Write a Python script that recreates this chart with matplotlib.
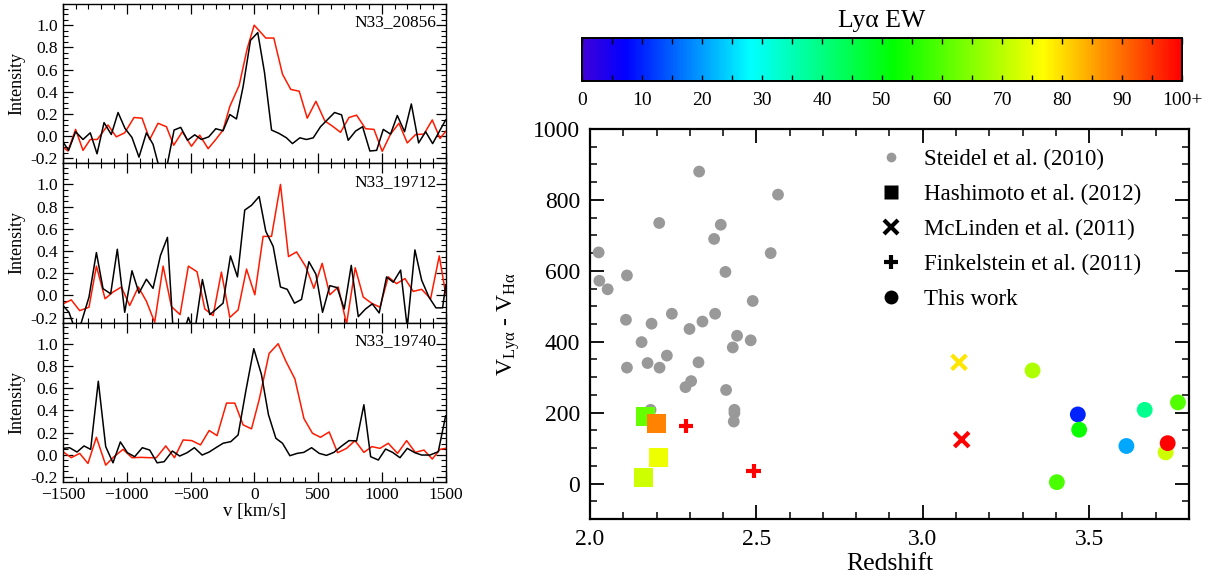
import numpy as np
import matplotlib
matplotlib.use('Agg')
import matplotlib.pyplot as plt
from matplotlib.colors import LinearSegmentedColormap, Normalize
from matplotlib.cm import ScalarMappable
from matplotlib.lines import Line2D
from matplotlib.ticker import MultipleLocator

plt.rcParams['font.family'] = ['Liberation Serif', 'DejaVu Serif']
plt.rcParams['mathtext.fontset'] = 'custom'
plt.rcParams['mathtext.rm'] = 'Liberation Serif'
plt.rcParams['mathtext.it'] = 'Liberation Serif:italic'

# ---------------- spectra (left panels) ----------------
names = ['N33_20856', 'N33_19712', 'N33_19740']

v_black_1 = [-1500, -1456, -1401, -1343, -1286, -1233, -1178, -1121, -1068, -1014, -959, -904, -846, -794,
             -742, -690, -629, -577, -524, -467, -415, -357, -302, -245, -192, -140, -88, -30, 27, 80, 135,
             195, 252, 299, 357, 409, 462, 519, 579, 629, 684, 736, 794, 849, 906, 959, 1011, 1068, 1121,
             1178, 1231, 1288, 1343, 1398, 1500]
i_black_1 = [-0.052, -0.128, 0.040, -0.030, 0.030, -0.159, 0.122, 0.015, 0.213, 0.070, -0.012, -0.189, 0.030,
             -0.073, -0.30, -0.30, 0.055, 0.079, -0.037, 0.012, -0.030, -0.006, 0.067, 0.049, 0.195, 0.155,
             0.445, 0.863, 0.933, 0.573, 0.055, 0.024, -0.015, -0.067, -0.015, -0.030, -0.015, 0.085, 0.155,
             0.213, 0.192, -0.037, 0.046, 0.085, -0.134, -0.128, 0.061, 0.018, 0.186, 0.040, 0.290, -0.061,
             0.040, -0.067, 0.146]
v_red_1 = [-1500, -1461, -1401, -1343, -1286, -1231, -1147, -1082, -1016, -943, -880, -820, -755, -689, -632,
           -564, -493, -428, -362, -302, -245, -192, -119, -56, -1, 90, 153, 221, 286, 352, 415, 483, 553,
           619, 676, 742, 802, 872, 938, 1003, 1068, 1134, 1199, 1265, 1330, 1395, 1456, 1500]
i_red_1 = [-0.098, -0.134, 0.061, -0.128, -0.030, -0.030, 0.101, -0.006, 0.030, 0.168, 0.162, -0.030, 0.116,
           0.085, -0.082, 0.040, -0.091, 0.009, -0.113, -0.030, 0.055, 0.268, 0.457, 0.787, 1.0, 0.884, 0.884,
           0.558, 0.421, 0.405, 0.162, 0.314, 0.137, 0.085, 0.034, 0.168, 0.189, 0.067, 0.061, -0.137, 0.018,
           0.116, -0.061, 0.015, 0.018, 0.146, -0.021, 0.043]

v_black_2 = [-1500, -1453, -1401, -1356, -1296, -1238, -1186, -1126, -1074, -1016, -959, -904, -846, -794,
             -736, -681, -632, -571, -517, -470, -407, -349, -297, -245, -187, -132, -75, -22, 38, 90, 148,
             205, 258, 315, 370, 428, 483, 535, 592, 650, 705, 760, 815, 872, 925, 979, 1037, 1089, 1147,
             1199, 1259, 1312, 1369, 1424, 1476, 1500]
i_black_2 = [-0.091, -0.152, -0.32, -0.243, -0.015, 0.386, 0.061, 0.015, 0.416, -0.152, 0.222, 0.021, 0.146,
             0.064, 0.359, 0.523, -0.40, -0.40, -0.198, -0.35, 0.143, -0.173, -0.122, -0.070, 0.356, 0.167,
             0.769, 0.812, 0.891, 0.578, 0.441, 0.076, 0.055, -0.070, -0.036, 0.304, 0.191, -0.152, 0.088,
             0.070, -0.122, 0.271, -0.191, -0.122, -0.076, -0.158, 0.167, 0.119, 0.228, -0.29, 0.410, 0.137,
             -0.015, -0.112, -0.112, 0.091]
v_red_2 = [-1500, -1435, -1369, -1296, -1238, -1170, -1108, -1042, -977, -909, -846, -781, -715, -650, -582,
           -517, -449, -388, -323, -258, -192, -127, -61, 4, 69, 135, 205, 268, 331, 404, 467, 532, 592, 658,
           723, 791, 854, 919, 985, 1050, 1115, 1181, 1246, 1312, 1382, 1450, 1500]
i_red_2 = [-0.076, -0.040, -0.137, -0.106, 0.264, -0.030, 0.030, 0.076, -0.091, 0.076, -0.052, -0.243, 0.264,
           -0.100, -0.173, 0.264, 0.213, -0.122, -0.182, 0.210, -0.198, -0.131, 0.237, 0.006, 0.532, 0.532,
           1.0, 0.350, 0.392, 0.258, 0.064, 0.289, 0.006, 0.076, -0.258, 0.249, -0.015, -0.070, -0.106,
           0.167, 0.106, 0.152, 0.036, 0.055, -0.030, 0.356, 0.015]

v_black_3 = [-1500, -1448, -1390, -1335, -1283, -1223, -1165, -1108, -1050, -995, -938, -878, -820, -762,
             -707, -642, -585, -527, -470, -409, -354, -297, -245, -184, -127, -67, -4, 56, 111, 169, 221,
             279, 336, 388, 449, 509, 566, 624, 679, 742, 802, 859, 912, 972, 1029, 1084, 1142, 1199, 1259,
             1312, 1377, 1442, 1500]
i_black_3 = [0.057, 0.063, 0.024, 0.079, 0.048, 0.662, 0.073, -0.073, 0.115, 0.018, -0.018, 0.063, 0.042,
             -0.073, -0.063, 0.033, -0.012, 0.018, 0.063, -0.003, 0.024, 0.066, 0.103, 0.118, 0.178, 0.571,
             0.955, 0.722, 0.360, 0.148, 0.103, -0.009, 0.012, 0.021, 0.063, 0.012, -0.006, 0.021, 0.073,
             0.127, 0.124, 0.450, -0.018, -0.048, 0.051, 0.021, -0.027, 0.057, 0.018, -0.003, -0.003, 0.027,
             0.350]
v_red_3 = [-1500, -1435, -1369, -1304, -1238, -1165, -1100, -1029, -959, -885, -820, -768, -694, -626, -558,
           -490, -422, -354, -292, -218, -153, -88, -22, 38, 116, 187, 247, 318, 389, 456, 519, 587, 653, 723,
           789, 859, 922, 985, 1050, 1123, 1194, 1262, 1330, 1395, 1456, 1500]
i_red_3 = [0.027, -0.027, 0.012, -0.079, 0.157, -0.094, -0.018, 0.048, -0.027, -0.024, -0.027, -0.027, 0.079,
           -0.027, 0.133, 0.127, 0.088, 0.218, 0.172, 0.465, 0.465, 0.269, 0.233, 0.495, 0.912, 1.0, 0.843,
           0.683, 0.326, 0.193, 0.157, 0.205, 0.018, 0.057, 0.127, 0.021, 0.073, 0.057, 0.103, 0.012, 0.127,
           0.021, 0.042, -0.039, 0.048, 0.057]

# ---------------- velocity offsets (right panel) ----------------
steidel_z = [2.328, 2.565, 2.208, 2.393, 2.373, 2.026, 2.543, 2.407, 2.028, 2.111, 2.053, 2.489, 2.108, 2.246,
             2.376, 2.185, 2.299, 2.338, 2.442, 2.155, 2.483, 2.429, 2.111, 2.173, 2.209, 2.231, 2.326, 2.287,
             2.304, 2.409, 2.434, 2.434, 2.432, 2.182]
steidel_dv = [880, 815, 735, 730, 690, 652, 650, 597, 572, 587, 548, 515, 462, 479, 479, 451, 436, 457, 417,
              399, 404, 384, 327, 340, 327, 361, 342, 272, 289, 264, 208, 199, 175, 208]

hashimoto_z = [2.167, 2.199, 2.206, 2.161]
hashimoto_dv = [190, 170, 74, 17]
hashimoto_ew = [62, 88, 75, 72]

mclinden_z = [3.109, 3.117]
mclinden_dv = [342, 124]
mclinden_ew = [79, 100]

finkelstein_z = [2.288, 2.492]
finkelstein_dv = [162, 35]
finkelstein_ew = [100, 100]

this_z = [3.330, 3.466, 3.470, 3.403, 3.612, 3.667, 3.767, 3.730, 3.736]
this_dv = [319, 195, 152, 4, 106, 208, 229, 88, 114]
this_ew = [69, 10, 53, 59, 21, 39, 60, 72, 100]

cbar_ticks = [0, 10, 20, 30, 40, 50, 60, 70, 80, 90, 100]
cbar_labels = ['0', '10', '20', '30', '40', '50', '60', '70', '80', '90', '100+']

# IDL-like rainbow
cmap = LinearSegmentedColormap.from_list('idl_rainbow', [
    (0.00, (0.25, 0.0, 0.85)),
    (0.07, (0.0, 0.0, 1.0)),
    (0.28, (0.0, 1.0, 1.0)),
    (0.52, (0.0, 1.0, 0.0)),
    (0.77, (1.0, 1.0, 0.0)),
    (1.00, (1.0, 0.0, 0.0)),
])
norm = Normalize(0, 100)

fig = plt.figure(figsize=(12.11, 5.82), dpi=100)

# ---------------- left panels ----------------
spectra = [(v_black_1, i_black_1, v_red_1, i_red_1),
           (v_black_2, i_black_2, v_red_2, i_red_2),
           (v_black_3, i_black_3, v_red_3, i_red_3)]
left, width = 0.052, 0.316
bottom, top = 0.172, 0.993
h = (top - bottom) / 3
for k, (vb, ib, vr, ir) in enumerate(spectra):
    ax = fig.add_axes([left, top - (k + 1) * h, width, h])
    ax.plot(vr, ir, color='#ff1a00', lw=1.1)
    ax.plot(vb, ib, color='black', lw=1.1)
    ax.set_xlim(-1500, 1500)
    ax.set_ylim(-0.245, 1.19)
    ax.xaxis.set_major_locator(MultipleLocator(500))
    ax.xaxis.set_minor_locator(MultipleLocator(100))
    ax.yaxis.set_major_locator(MultipleLocator(0.2))
    ax.yaxis.set_minor_locator(MultipleLocator(0.05))
    ax.yaxis.set_major_formatter(matplotlib.ticker.FuncFormatter(lambda y, p: f'{y:.1f}'))
    ax.tick_params(which='both', direction='in', top=True, right=True, labelsize=12.5)
    ax.tick_params(which='major', length=7, width=0.9)
    ax.tick_params(which='minor', length=3.5, width=0.8)
    ax.set_ylabel('Intensity', fontsize=13, labelpad=4)
    ax.text(0.975, 0.885, names[k], transform=ax.transAxes, ha='right', va='center', fontsize=12.5)
    for s in ax.spines.values():
        s.set_linewidth(1.0)
    if k < 2:
        ax.tick_params(labelbottom=False)
    else:
        ax.set_xlabel('v [km/s]', fontsize=13.5, labelpad=0)

# ---------------- right panel ----------------
ax = fig.add_axes([0.4872, 0.1082, 0.4946, 0.6701])
ax.scatter(steidel_z, steidel_dv, s=72, color='#999999', edgecolors='none', zorder=2)
ax.scatter(hashimoto_z, hashimoto_dv, s=190, marker='s', c=hashimoto_ew, cmap=cmap, norm=norm,
           edgecolors='none', zorder=3)
ax.scatter(mclinden_z, mclinden_dv, s=110, marker='x', c=mclinden_ew, cmap=cmap, norm=norm,
           linewidths=3, zorder=3)
ax.scatter(finkelstein_z, finkelstein_dv, s=110, marker='+', c=finkelstein_ew, cmap=cmap, norm=norm,
           linewidths=3, zorder=3)
ax.scatter(this_z, this_dv, s=130, marker='o', c=this_ew, cmap=cmap, norm=norm, edgecolors='none', zorder=3)
ax.set_xlim(2.0, 3.8)
ax.set_ylim(-100, 1000)
ax.xaxis.set_major_locator(MultipleLocator(0.5))
ax.xaxis.set_minor_locator(MultipleLocator(0.1))
ax.yaxis.set_major_locator(MultipleLocator(200))
ax.yaxis.set_minor_locator(MultipleLocator(50))
ax.xaxis.set_major_formatter(matplotlib.ticker.FuncFormatter(lambda x, p: f'{x:.1f}'))
ax.tick_params(which='both', direction='in', top=True, right=True, labelsize=17)
ax.tick_params(which='major', length=10, width=1.3, pad=7)
ax.tick_params(which='minor', length=5, width=1.1)
for s in ax.spines.values():
    s.set_linewidth(1.6)
ax.set_xlabel('Redshift', fontsize=18.5, labelpad=2)
ax.set_ylabel('$\\mathrm{V_{Lyα}}$ - $\\mathrm{V_{Hα}}$', fontsize=17, labelpad=8)

handles = [
    Line2D([], [], ls='none', marker='o', ms=7, color='#999999', mec='none'),
    Line2D([], [], ls='none', marker='s', ms=10, color='black', mec='none'),
    Line2D([], [], ls='none', marker='x', ms=10, color='black', mew=3),
    Line2D([], [], ls='none', marker='+', ms=10, color='black', mew=3),
    Line2D([], [], ls='none', marker='o', ms=10, color='black', mec='none'),
]
labels = ['Steidel et al. (2010)', 'Hashimoto et al. (2012)', 'McLinden et al. (2011)',
          'Finkelstein et al. (2011)', 'This work']
ax.legend(handles, labels, loc='upper left', bbox_to_anchor=(0.47, 0.972), frameon=False, fontsize=16.5,
          handlelength=0.9, handletextpad=1.0, labelspacing=0.6, borderaxespad=0)

# ---------------- colour bar ----------------
cax = fig.add_axes([0.4806, 0.8613, 0.4955, 0.0734])
cb = fig.colorbar(ScalarMappable(norm=norm, cmap=cmap), cax=cax, orientation='horizontal')
cb.set_ticks(cbar_ticks)
cb.set_ticklabels(cbar_labels)
cax.xaxis.set_minor_locator(MultipleLocator(5))
cax.tick_params(which='both', direction='in', top=True, bottom=True, length=4, width=1.0,
                labelsize=14, pad=8)
cb.outline.set_linewidth(1.4)
cax.set_title('Lyα EW', fontsize=18.5, pad=8)

fig.savefig('out.png', dpi=100)
